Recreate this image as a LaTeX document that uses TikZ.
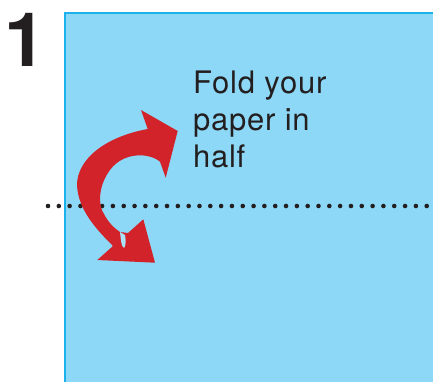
\documentclass[tikz,border=0pt]{standalone}
\usepackage{fontspec}
\setmainfont{TeX Gyre Heros}
\usepackage{xcolor}
\usepackage{tikz}
\usetikzlibrary{calc}
\definecolor{sheet}{HTML}{8DD8F6}
\definecolor{sheetEdge}{HTML}{1BB2EC}
\definecolor{ink}{HTML}{231F20}
\definecolor{foldRed}{HTML}{D2232A}

\begin{document}
\begin{tikzpicture}[
  x=1pt, y=-1pt,
  every node/.style={inner sep=0pt, outer sep=0pt, text=ink},
  stepnum/.style={font=\fontsize{75}{75}\selectfont\bfseries, anchor=base west},
  hint/.style   ={font=\fontsize{31}{37}\selectfont\addfontfeatures{LetterSpace=2.5}, align=left, anchor=base west},
  foldline/.style={ink, line width=4.6pt, line cap=round, dash pattern=on 0pt off 10.82pt},
  curlarrow/.style={fill=foldRed, draw=none},
]

% ── Page frame ──
\clip (0,0) rectangle (433,381);

% ── Paper sheet (runs off right and bottom) ──
\fill[sheet] (65,13) rectangle (440,390);
\draw[sheetEdge, line width=2pt] (65,390) -- (65,13) -- (440,13);

% ── Step number + instruction (base = last line) ──
\node[stepnum] (num) at (5,66) {1};
\node[hint] (say) at (193,167.3) {Fold your\\paper in\\half};

% ── Dotted fold line ──
\coordinate (foldL) at (48,206);
\coordinate (foldR) at (440,206);
\draw[foldline] (foldL) -- (foldR);

% ── Red curved arrow (both ends tipped) ──
\fill[curlarrow] (141,110) -- (177.7,131) -- (165.7,177.7) -- (160,161.7)
  .. controls (150,153) and (124,151) .. (110,170)
  .. controls (98,186) and (98,206) .. (104,214)
  .. controls (108,222) and (114,228) .. (120,232)
  -- (128,233) -- (143.3,219.3) -- (155,262.7) -- (97.3,260) -- (113,246)
  .. controls (97,230) and (78,210) .. (77,185)
  .. controls (77,160) and (104,137) .. (147.7,129) -- cycle;
% small twist highlight in the lower head
\fill[sheet!75!white] (120,232) .. controls (121,240) and (121,246) .. (124,248)
  .. controls (126,246) and (126,240) .. (125,235) -- cycle;

\end{tikzpicture}
\end{document}
